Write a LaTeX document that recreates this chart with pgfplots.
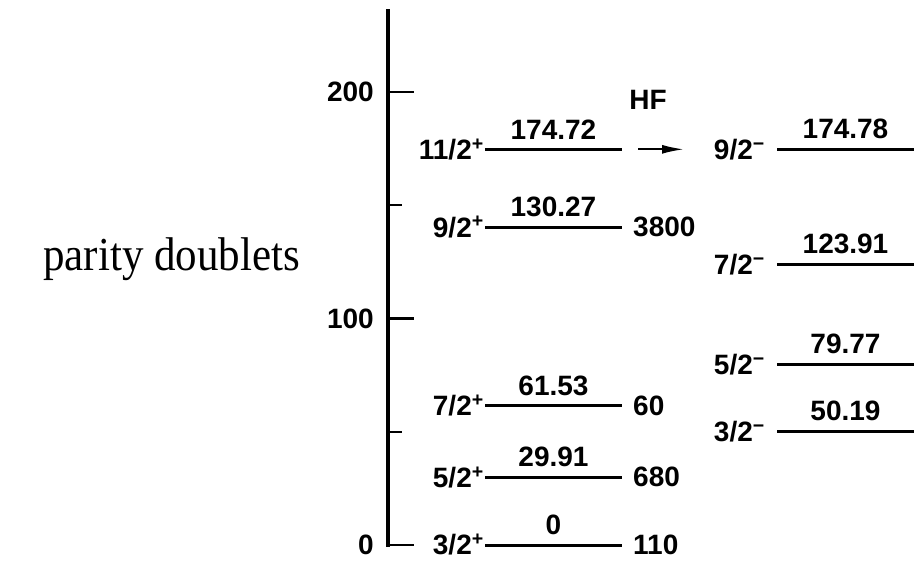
\documentclass[border=0pt]{standalone}
\usepackage{fontspec}
\setmainfont{Liberation Sans}
\newfontfamily\timesfont{Liberation Serif}
\usepackage{pgfplots}
\pgfplotsset{compat=1.18}
\usetikzlibrary{arrows.meta}
\newcommand{\lbl}{\fontsize{28}{28}\selectfont\bfseries}
\tikzset{lab/.style={inner sep=0pt, font=\lbl}}
\begin{document}
\begin{tikzpicture}[x=1pt,y=1pt]
\path[use as bounding box] (0,0) rectangle (924,560);
\begin{axis}[
  at={(388pt,15pt)}, anchor=origin,
  scale only axis, width=536pt, height=534pt,
  xmin=388, xmax=924, ymin=0, ymax=235.8,
  axis y line*=left, axis x line=none,
  axis line style={line width=3.2pt, line cap=rect},
  ytick={0,100,200}, minor ytick={50,150},
  tick align=inside,
  major tick length=26pt, minor tick length=14pt,
  major tick style={line width=2.2pt, black},
  minor tick style={line width=2pt, black},
  /pgf/number format/assume math mode=true,
  yticklabel style={font=\lbl, anchor=east, inner sep=0pt, xshift=-14pt},
  clip=false,
]
% positive parity band
\addplot[black, line width=3pt] coordinates {(485,0) (622,0)};
\addplot[black, line width=3pt] coordinates {(485,29.91) (622,29.91)};
\addplot[black, line width=3pt] coordinates {(485,61.53) (622,61.53)};
\addplot[black, line width=3pt] coordinates {(485,140.4) (622,140.4)};
\addplot[black, line width=3pt] coordinates {(485,174.72) (622,174.72)};
% negative parity band
\addplot[black, line width=3pt] coordinates {(777,50.19) (914,50.19)};
\addplot[black, line width=3pt] coordinates {(777,79.77) (914,79.77)};
\addplot[black, line width=3pt] coordinates {(777,123.91) (914,123.91)};
\addplot[black, line width=3pt] coordinates {(777,174.78) (914,174.78)};
% arrow
\addplot[black, line width=2pt, -{Latex[length=22pt,width=9pt]}] coordinates {(638,174.72) (684,174.72)};

% spin labels (positive parity)
\node[lab, anchor=east] at (axis cs:484,0) {3/2\textsuperscript{+}};
\node[lab, anchor=east] at (axis cs:484,29.91) {5/2\textsuperscript{+}};
\node[lab, anchor=east] at (axis cs:484,61.53) {7/2\textsuperscript{+}};
\node[lab, anchor=east] at (axis cs:484,140.4) {9/2\textsuperscript{+}};
\node[lab, anchor=east] at (axis cs:484,174.72) {11/2\textsuperscript{+}};
% spin labels (negative parity)
\node[lab, anchor=east] at (axis cs:765,50.19) {3/2\textsuperscript{−}};
\node[lab, anchor=east] at (axis cs:765,79.77) {5/2\textsuperscript{−}};
\node[lab, anchor=east] at (axis cs:765,123.91) {7/2\textsuperscript{−}};
\node[lab, anchor=east] at (axis cs:765,174.78) {9/2\textsuperscript{−}};
% energies
\node[lab, anchor=south, yshift=10pt] at (axis cs:553.5,0) {0};
\node[lab, anchor=south, yshift=10pt] at (axis cs:553.5,29.91) {29.91};
\node[lab, anchor=south, yshift=10pt] at (axis cs:553.5,61.53) {61.53};
\node[lab, anchor=south, yshift=10pt] at (axis cs:553.5,140.4) {130.27};
\node[lab, anchor=south, yshift=10pt] at (axis cs:553.5,174.72) {174.72};
\node[lab, anchor=south, yshift=10pt] at (axis cs:845.5,50.19) {50.19};
\node[lab, anchor=south, yshift=10pt] at (axis cs:845.5,79.77) {79.77};
\node[lab, anchor=south, yshift=10pt] at (axis cs:845.5,123.91) {123.91};
\node[lab, anchor=south, yshift=10pt] at (axis cs:845.5,174.78) {174.78};
% intensities
\node[lab, anchor=west] at (axis cs:633,0) {110};
\node[lab, anchor=west] at (axis cs:633,29.91) {680};
\node[lab, anchor=west] at (axis cs:633,61.53) {60};
\node[lab, anchor=west] at (axis cs:633,140.4) {3800};
\node[lab] at (axis cs:648,196.5) {HF};
\node[anchor=base west, inner sep=0pt, font=\timesfont\fontsize{43}{43}\selectfont] at (axis cs:43,121.4) {\scalebox{1}[1.1]{parity doublets}};
\end{axis}
\end{tikzpicture}
\end{document}
